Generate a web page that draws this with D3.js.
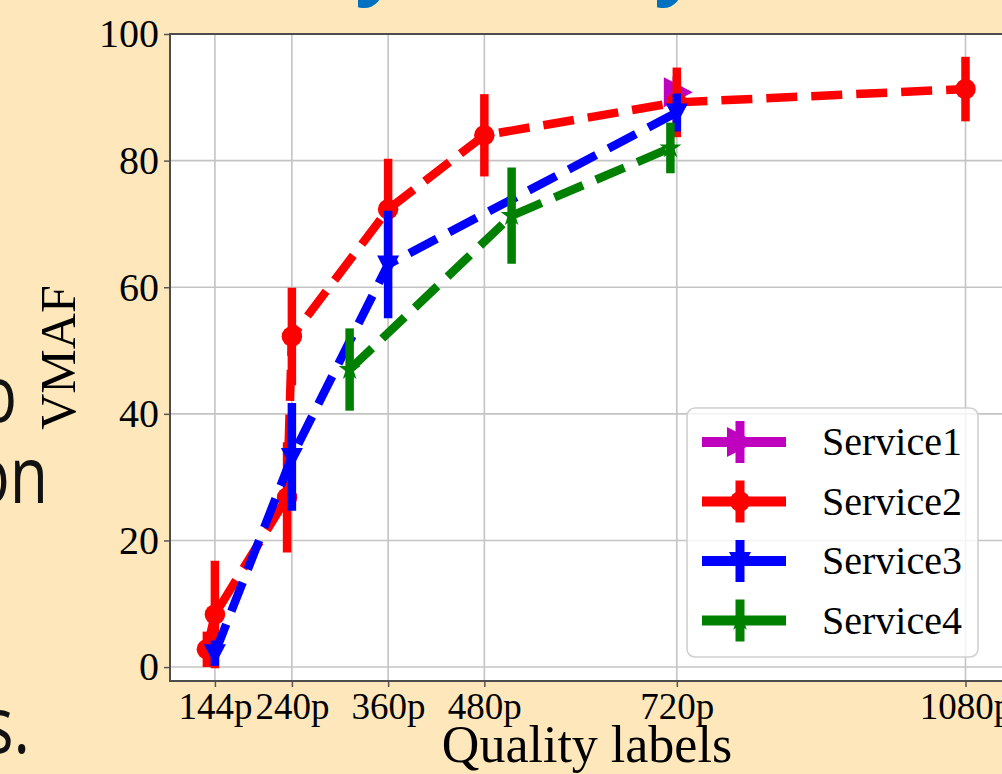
<!DOCTYPE html>
<html>
<head>
<meta charset="utf-8">
<script src="https://cdn.jsdelivr.net/npm/d3@7"></script>
<style>
  body { margin: 0; background: #fee8bb; overflow: hidden; }
  .tick text { font-family: "Liberation Serif", "DejaVu Serif", serif; }
</style>
</head>
<body>
<div id="chart"></div>
<script>
// tick labels on the x axis
var tickValues = [144, 240, 360, 480, 720, 1080];
var tickLabels = ["144p", "240p", "360p", "480p", "720p", "1080p"];
var yTicks = [0, 20, 40, 60, 80, 100];

// Service1
var s1x = [720];
var s1y = [90.8];
var s1e = [2.5];
// Service2
var s2x = [134, 144, 234, 240, 360, 480, 720, 1080];
var s2y = [2.8, 8.3, 26.8, 52.2, 72.3, 84.0, 89.2, 91.3];
var s2e = [2.8, 8.5, 8.7, 7.7, 8.0, 6.5, 5.5, 5.1];
// Service3
var s3x = [144, 240, 360, 720];
var s3y = [2.2, 33.2, 63.6, 87.6];
var s3e = [2.0, 8.5, 8.5, 3.0];
// Service4
var s4x = [312, 514, 712];
var s4y = [47.0, 71.3, 82.0];
var s4e = [6.5, 7.6, 4.0];

var seriesNames = ["Service1", "Service2", "Service3", "Service4"];
var seriesColors = ["#bf00bf", "#ff0000", "#0000ff", "#008000"];
var seriesMarkers = ["right", "circle", "down", "star"];

function makeSeries(xs, ys, es) {
    return xs.map(function (x, i) { return { x: x, y: ys[i], e: es[i] }; });
}

var allSeries = [
    makeSeries(s1x, s1y, s1e),
    makeSeries(s2x, s2y, s2e),
    makeSeries(s3x, s3y, s3e),
    makeSeries(s4x, s4y, s4e)
];

function markerPath(kind) {
    if (kind === "circle") return d3.symbol().type(d3.symbolCircle).size(330)();
    if (kind === "star") return d3.symbol().type(d3.symbolStar).size(150)();
    if (kind === "down") return "M-11,-9L11,-9L0,12Z";
    return "M-13,-15L16,0L-13,15Z";
}

function createChart() {
    var svgWidth = 1002, svgHeight = 774;
    var svg = d3.select("#chart").append("svg")
        .attr("width", svgWidth)
        .attr("height", svgHeight);

    // bits of the slide around the figure
    var slideFont = "'Open Sans', 'Noto Sans', sans-serif";
    [378, 677].forEach(function (px) {
        svg.append("text").attr("x", px).attr("y", -11).attr("font-family", slideFont)
            .attr("font-weight", "bold").attr("font-size", 80).attr("fill", "#0070c0")
            .attr("text-anchor", "middle").text("y");
    });
    [["o", 17, 422], ["on", 48, 503], ["s.", 30, 753]].forEach(function (t) {
        svg.append("text")
            .attr("transform", "translate(" + t[1] + "," + t[2] + ") scale(0.8,1)")
            .attr("font-family", slideFont).attr("font-size", 78)
            .attr("text-anchor", "end").attr("fill", "#111").text(t[0]);
    });

    var margin = { top: 34, left: 170 },
        width = 834, height = 647;

    var x = d3.scaleLinear().domain([88, 1128]).range([0, width]);
    var y = d3.scaleLinear().domain([-2.2, 100]).range([height, 0]);

    var g = svg.append("g")
        .attr("transform", "translate(" + margin.left + "," + margin.top + ")");

    g.append("rect").attr("width", width).attr("height", height).attr("fill", "#fff");

    // grid
    g.selectAll(".gx").data(tickValues).enter().append("line")
        .attr("x1", d => x(d)).attr("x2", d => x(d))
        .attr("y1", 0).attr("y2", height)
        .attr("stroke", "#c4c4c4").attr("stroke-width", 1.6);
    g.selectAll(".gy").data(yTicks).enter().append("line")
        .attr("x1", 0).attr("x2", width)
        .attr("y1", d => y(d)).attr("y2", d => y(d))
        .attr("stroke", "#c4c4c4").attr("stroke-width", 1.6);

    var xAxis = g.append("g")
        .attr("class", "axis axis-x")
        .attr("transform", "translate(0," + height + ")")
        .call(d3.axisBottom(x).tickValues(tickValues).tickSize(6).tickPadding(6)
            .tickFormat((d, i) => tickLabels[i]));
    xAxis.selectAll(".tick text").attr("font-size", 37).attr("fill", "#000");

    var yAxis = g.append("g")
        .attr("class", "axis axis-y")
        .call(d3.axisLeft(y).tickValues(yTicks).tickSize(6).tickPadding(5));
    yAxis.selectAll(".tick text").attr("font-size", 40).attr("fill", "#000");

    svg.selectAll(".axis path.domain").remove();
    svg.selectAll(".axis .tick line").attr("stroke", "#555").attr("stroke-width", 1.5);

    var line = d3.line().x(d => x(d.x)).y(d => y(d.y));

    allSeries.forEach(function (data, k) {
        var c = seriesColors[k];
        var sg = g.append("g");
        sg.selectAll(".err").data(data).enter().append("line")
            .attr("x1", d => x(d.x)).attr("x2", d => x(d.x))
            .attr("y1", d => y(d.y - d.e)).attr("y2", d => y(d.y + d.e))
            .attr("stroke", c).attr("stroke-width", 8.5);
        sg.append("path").datum(data)
            .attr("d", line)
            .attr("fill", "none").attr("stroke", c).attr("stroke-width", 8.5)
            .attr("stroke-dasharray", "31,14").attr("stroke-linejoin", "round");
        sg.selectAll(".mk").data(data).enter().append("path")
            .attr("transform", d => "translate(" + x(d.x) + "," + y(d.y) + ")")
            .attr("d", markerPath(seriesMarkers[k]))
            .attr("fill", c);
    });

    // spines
    g.append("rect").attr("width", width).attr("height", height)
        .attr("fill", "none").attr("stroke", "#4d4d4d").attr("stroke-width", 2);

    // axis titles
    svg.append("text")
        .attr("x", margin.left + width / 2).attr("y", 762)
        .attr("text-anchor", "middle")
        .attr("font-family", "'Liberation Serif', serif").attr("font-size", 52)
        .text("Quality labels");
    svg.append("text")
        .attr("transform", "translate(75," + (margin.top + height / 2) + ") rotate(-90)")
        .attr("text-anchor", "middle")
        .attr("font-family", "'Liberation Serif', serif").attr("font-size", 50)
        .text("VMAF");

    // legend
    var lg = svg.append("g").attr("transform", "translate(687,408)");
    lg.append("rect").attr("width", 291).attr("height", 249).attr("rx", 8)
        .attr("fill", "#fff").attr("fill-opacity", 0.8)
        .attr("stroke", "#d0d0d0").attr("stroke-width", 1.6);
    seriesNames.forEach(function (name, k) {
        var cy = 34 + k * 59.5;
        var c = seriesColors[k];
        lg.append("line").attr("x1", 15).attr("x2", 99).attr("y1", cy).attr("y2", cy)
            .attr("stroke", c).attr("stroke-width", 10);
        lg.append("line").attr("x1", 53).attr("x2", 53).attr("y1", cy - 21).attr("y2", cy + 21)
            .attr("stroke", c).attr("stroke-width", 9);
        lg.append("path").attr("transform", "translate(53," + cy + ")")
            .attr("d", markerPath(seriesMarkers[k])).attr("fill", c);
        lg.append("text").attr("x", 135).attr("y", cy + 13)
            .attr("font-family", "'Liberation Serif', serif").attr("font-size", 40)
            .text(name);
    });
}

createChart();
</script>
</body>
</html>
